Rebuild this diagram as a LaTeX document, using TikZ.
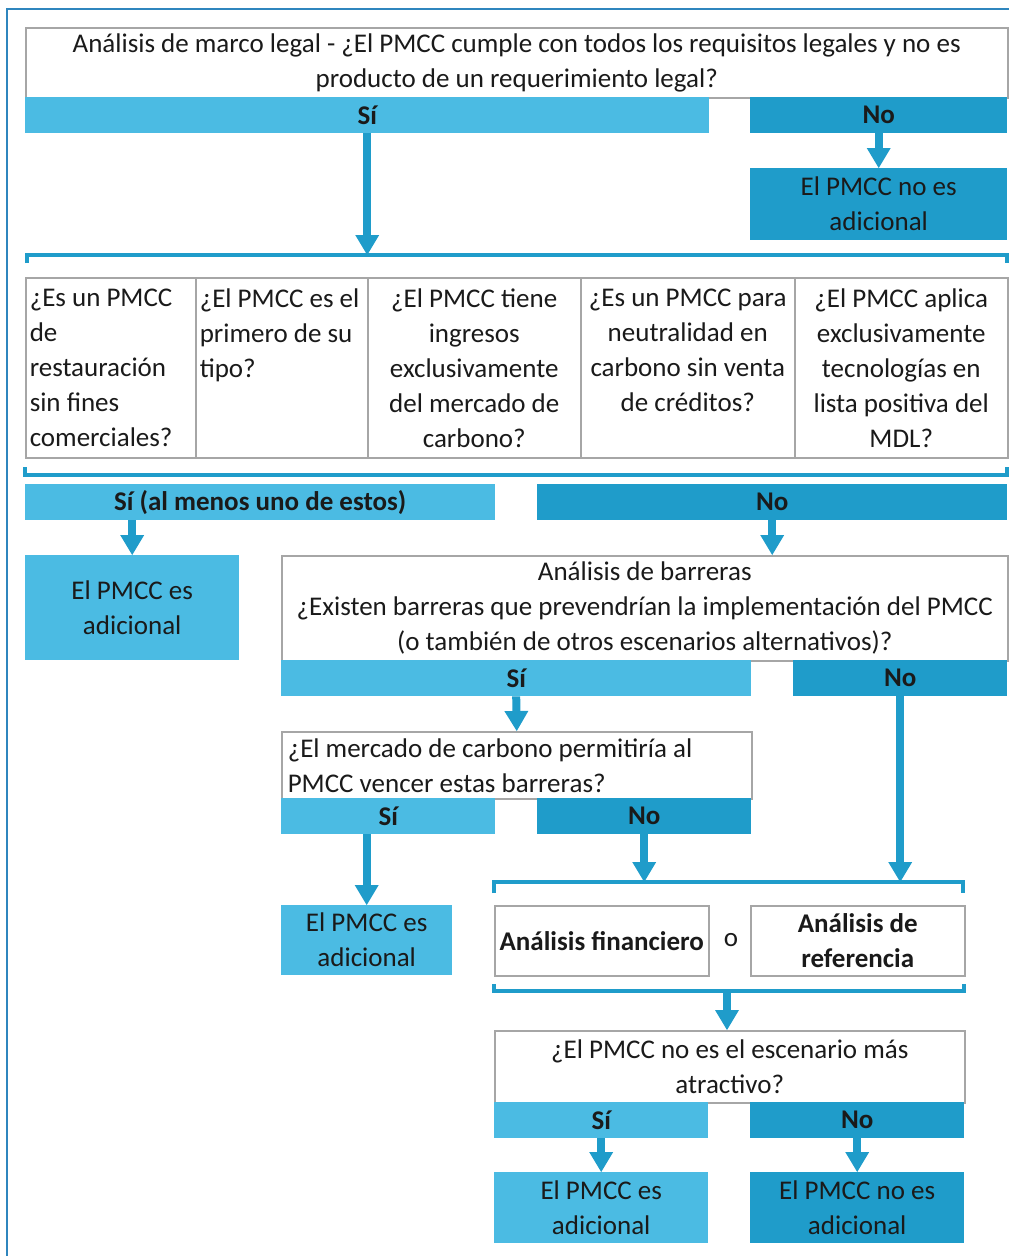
\documentclass[tikz,border=0pt]{standalone}
\usepackage{fontspec}
\setmainfont{Carlito}
\usetikzlibrary{arrows.meta,positioning}
\definecolor{lightblue}{HTML}{4BBBE3}
\definecolor{darkblue}{HTML}{1F9CCA}
\definecolor{arrowblue}{HTML}{1F9CCA}
\definecolor{boxgray}{HTML}{A6A6A6}
\definecolor{framecol}{HTML}{2F86BE}
\definecolor{txt}{HTML}{1A1A1A}

\begin{document}
\begin{tikzpicture}[x=1pt,y=-1pt,font=\fontsize{27}{35}\selectfont,text=txt]
    \tikzstyle{qbox}=[draw=boxgray, fill=white, line width=1.5pt, inner sep=0pt, align=center, anchor=north west]
    \tikzstyle{sibar}=[fill=lightblue, inner sep=0pt, anchor=north west, minimum height=36pt, font=\fontsize{27}{35}\selectfont\bfseries]
    \tikzstyle{nobar}=[sibar, fill=darkblue]
    \tikzstyle{yesres}=[fill=lightblue, inner sep=0pt, align=center, anchor=north west]
    \tikzstyle{nores}=[yesres, fill=darkblue]
    \tikzstyle{flow}=[color=arrowblue, line width=8pt, -{Triangle[width=24pt,length=20pt,line width=0pt]}]
    \tikzstyle{brace}=[draw=arrowblue, line width=4pt]

    \useasboundingbox (0,0) rectangle (1009,1256);
    \draw[framecol, line width=2pt] (7,1256) -- (7,9) -- (1009,9);

    % marco legal
    \node[qbox, minimum width=982pt, minimum height=70pt] (legal) at (25,27) {Análisis de marco legal - ¿El PMCC cumple con todos los requisitos legales y no es\\producto de un requerimiento legal?};
    \node[sibar, minimum width=684pt] (legalsi) at (25,97) {Sí};
    \node[nobar, minimum width=257pt] (legalno) at (750,97) {No};
    \node[nores, minimum width=257pt, minimum height=72pt] (legalnoad) at (750,168) {El PMCC no es\\adicional};

    \coordinate (br1) at (367,255);
    \draw[brace] (27,263) -- (27,255) -- (1007,255) -- (1007,263);

    % criterios
    \node[qbox, minimum width=170pt, minimum height=180pt, inner xsep=4pt, text width=162pt, align=flush left] (crit1) at (25,277) {¿Es un PMCC\\de\\restauración\\sin fines\\comerciales?};
    \node[qbox, minimum width=172pt, minimum height=180pt, inner xsep=4pt, text width=164pt, align=flush left] (crit2) at (195,277) {¿El PMCC es el\\primero de su\\tipo?\\\phantom{x}\\\phantom{x}};
    \node[qbox, minimum width=213pt, minimum height=180pt] (crit3) at (367,277) {¿El PMCC tiene\\ingresos\\exclusivamente\\del mercado de\\carbono?};
    \node[qbox, minimum width=214pt, minimum height=180pt] (crit4) at (580,277) {¿Es un PMCC para\\neutralidad en\\carbono sin venta\\de créditos?\\\phantom{x}};
    \node[qbox, minimum width=213pt, minimum height=180pt] (crit5) at (794,277) {¿El PMCC aplica\\exclusivamente\\tecnologías en\\lista positiva del\\MDL?};

    \draw[brace] (25,467) -- (25,475) -- (1007,475) -- (1007,467);

    \node[sibar, minimum width=470pt] (critsi) at (25,484) {Sí (al menos uno de estos)};
    \node[nobar, minimum width=470pt] (critno) at (537,484) {No};
    \node[yesres, minimum width=214pt, minimum height=105pt] (critsiad) at (25,555) {El PMCC es\\adicional};

    % barreras
    \node[qbox, minimum width=726pt, minimum height=105pt] (barr) at (281,555) {Análisis de barreras\\¿Existen barreras que prevendrían la implementación del PMCC\\(o también de otros escenarios alternativos)?};
    \node[sibar, minimum width=470pt] (barrsi) at (281,660) {Sí};
    \node[nobar, minimum width=214pt] (barrno) at (793,660) {No};

    \node[qbox, minimum width=470pt, minimum height=67pt, inner xsep=6pt, text width=458pt, align=flush left] (merc) at (281,731) {¿El mercado de carbono permitiría al\\PMCC vencer estas barreras?};
    \node[sibar, minimum width=214pt] (mercsi) at (281,798) {Sí};
    \node[nobar, minimum width=214pt] (mercno) at (537,798) {No};
    \node[yesres, minimum width=171pt, minimum height=70pt] (mercsiad) at (281,905) {El PMCC es\\adicional};

    \coordinate (br3) at (729,882);
    \draw[brace] (494,893) -- (494,882) -- (963,882) -- (963,893);

    \node[qbox, minimum width=214pt, minimum height=70pt, font=\fontsize{27}{35}\selectfont\bfseries] (fin) at (494,905) {Análisis financiero};
    \node (o) at (731,940) {o};
    \node[qbox, minimum width=214pt, minimum height=70pt, font=\fontsize{27}{35}\selectfont\bfseries] (ref) at (750,905) {Análisis de\\referencia};

    \coordinate (br4) at (727,991);
    \draw[brace] (494,984) -- (494,991) -- (964,991) -- (964,984);

    % escenario mas atractivo
    \node[qbox, minimum width=470pt, minimum height=72pt] (atr) at (494,1030) {¿El PMCC no es el escenario más\\atractivo?};
    \node[sibar, minimum width=214pt] (atrsi) at (494,1102) {Sí};
    \node[nobar, minimum width=214pt] (atrno) at (750,1102) {No};
    \node[yesres, minimum width=214pt, minimum height=71pt] (atrsiad) at (494,1172) {El PMCC es\\adicional};
    \node[nores, minimum width=214pt, minimum height=71pt] (atrnoad) at (750,1172) {El PMCC no es\\adicional};

    \draw[flow] (legalsi.south) -- (legalsi.south |- br1);
    \draw[flow] (legalno.south) -- (legalnoad.north);
    \draw[flow] (critsiad.north |- critsi.south) -- (critsiad.north);
    \draw[flow] (critno.south) -- (critno.south |- barr.north);
    \draw[flow] (barrsi.south) -- (merc.north);
    \draw[flow] (mercsiad.north |- mercsi.south) -- (mercsiad.north);
    \draw[flow] (mercno.south) -- (mercno.south |- br3);
    \draw[flow] (barrno.south) -- (barrno.south |- br3);
    \draw[flow] (br4) -- (br4 |- atr.north);
    \draw[flow] (atrsi.south) -- (atrsiad.north);
    \draw[flow] (atrno.south) -- (atrnoad.north);
\end{tikzpicture}
\end{document}
